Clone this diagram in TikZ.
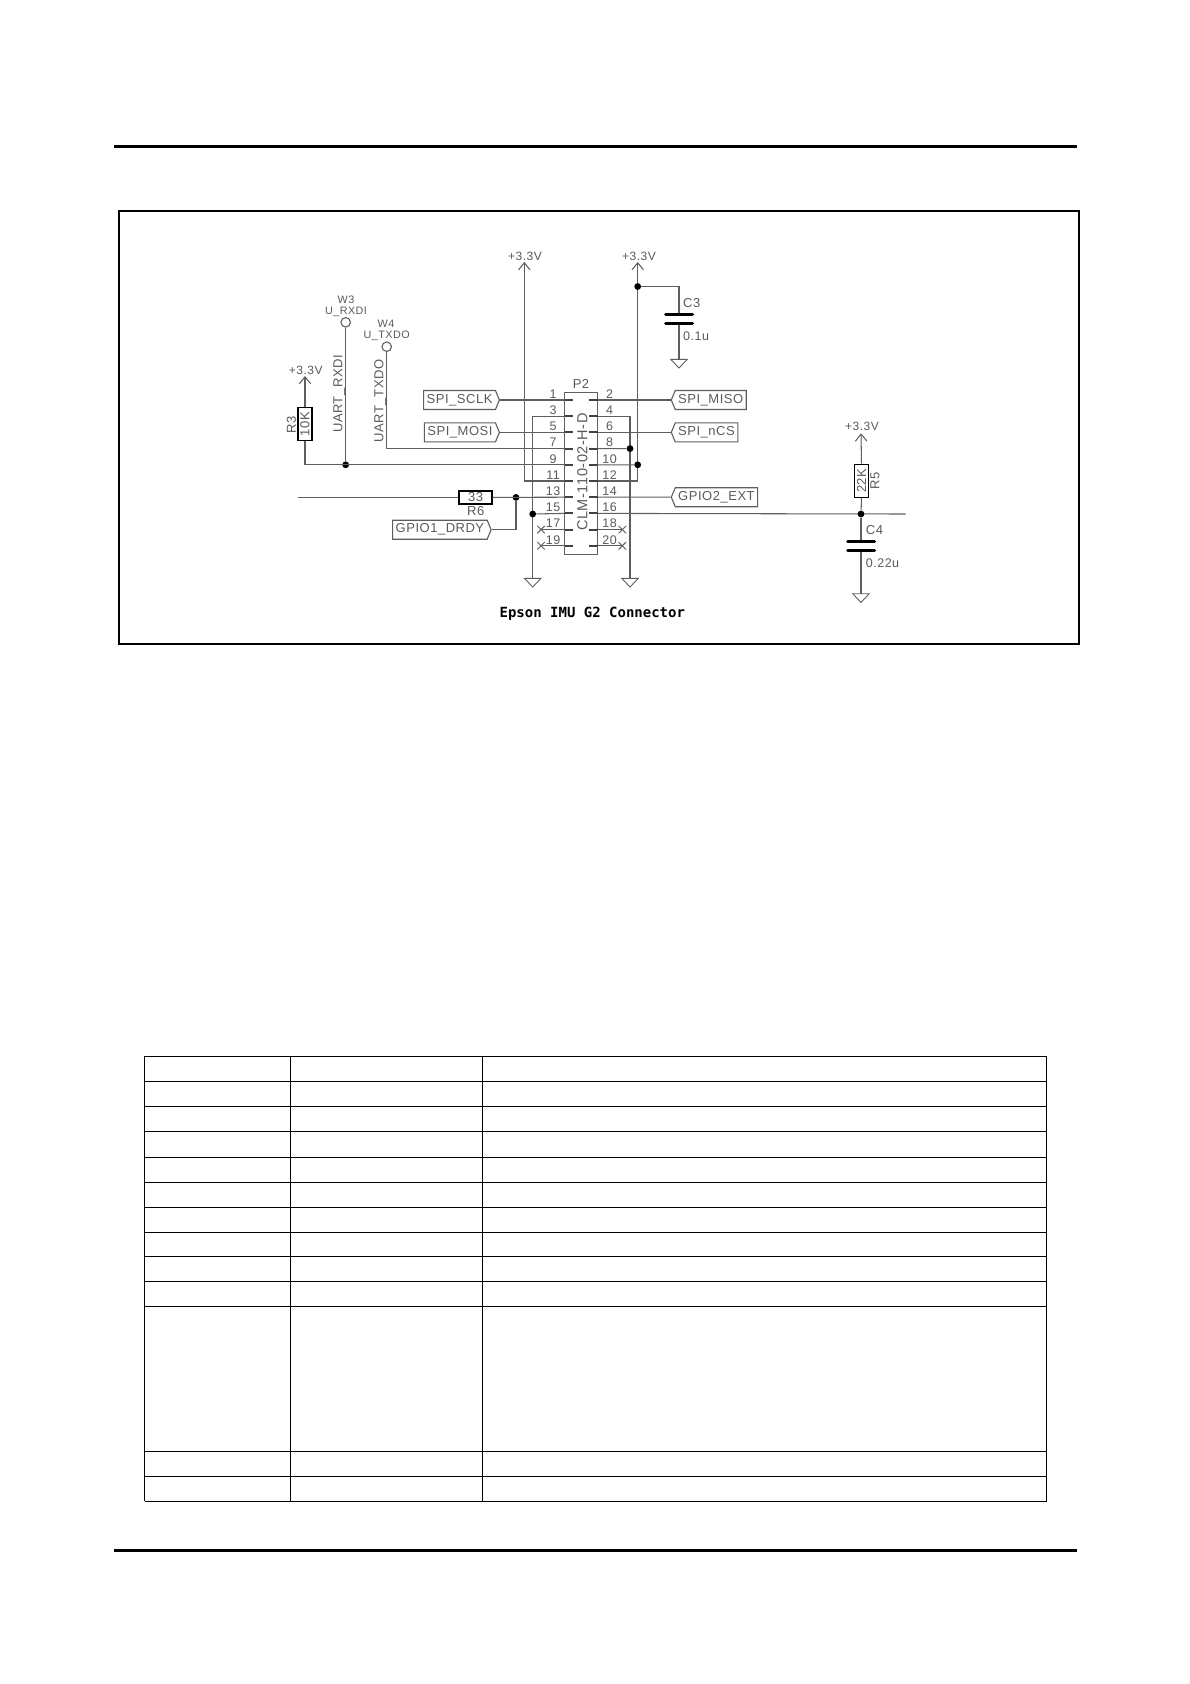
\documentclass[tikz,border=0pt]{standalone}
\usepackage{fontspec}
\usetikzlibrary{arrows.meta}
\usetikzlibrary{shapes.symbols}
\usetikzlibrary{shapes.misc}
\newfontfamily\schemfont[LetterSpace=4]{Liberation Sans}
\newfontfamily\titlefont{DejaVu Sans Mono}
\definecolor{schemgray}{HTML}{5E5E5E}
\definecolor{schemtext}{HTML}{5A5A5A}
\newcommand{\schemsize}[1]{\fontsize{#1}{#1}\schemfont}
\tikzset{
        wire/.style={draw=schemgray, line width=1.05pt},
        vccwire/.style={wire, -{Straight Barb[length=7pt,width=11.5pt]}},
        plate/.style={draw=black, line width=3pt, line cap=round},
        pinstub/.style={draw=schemgray!70!black, line width=2pt},
        junction/.style={circle, fill=black, inner sep=0pt, minimum size=6.8pt},
        lab/.style={text=schemtext, inner sep=0pt, font=\schemsize{12}},
        padlab/.style={lab, font=\schemsize{10.8}},
        pinnum/.style={lab, font=\schemsize{12.5}},
        tagbox/.style={signal, signal pointer angle=135, draw=schemgray, line width=1.1pt, text=schemtext,
                inner xsep=3pt, inner ysep=0pt, minimum height=19pt, font=\schemsize{13}},
        resbox/.style={draw=black, line width=1.4pt, inner sep=0pt, text=schemtext, minimum width=33pt, minimum height=14pt, font=\schemsize{13}},
        nc/.style={cross out, draw=schemgray, line width=0.9pt, inner sep=0pt, minimum size=6.5pt},
        pad/.style={circle, draw=schemgray, line width=1.1pt, fill=white, inner sep=0pt, minimum size=9.5pt},
        gnd/.pic={\draw[wire, line width=0.9pt] (-8.3,0) -- (8.3,0) -- (0,8.7) -- cycle;},
}

\begin{document}
\begin{tikzpicture}[x=1pt, y=-1pt]
        \useasboundingbox (0,0) rectangle (1190,1684);

        \draw [line width=3pt] (114,146) -- (1077,146);
        \draw [line width=3pt] (114,1550) -- (1077,1550);
        \draw [line width=2pt] (119,211) rectangle (1079,644);

        \foreach \yy in {1056,1081.3,1106.3,1131.6,1157.3,1182.3,1207.3,1232.3,1256.3,1281.3,1306.3,1451,1476.3,1501.3}
                \draw [line width=1pt] (144.7,\yy) -- (1046.7,\yy);
        \foreach \xx in {144.7,290,482,1046.7}
                \draw [line width=1pt] (\xx,1056) -- (\xx,1501.3);

        \node [draw=schemgray, line width=1.1pt, minimum width=33pt, minimum height=162.3pt, inner sep=0pt] (connP) at (581.2,473.2) {};
        \node [lab, font=\schemsize{13}] (labP) at (581,384.3) {P2};
        \node [lab, rotate=90, font=\schemsize{14.5}] (labClm) at (582.3,472) {CLM-110-02-H-D};

        \foreach \r in {0,...,9} {
                \pgfmathsetmacro{\yy}{400+16.2*\r}
                \pgfmathtruncatemacro{\na}{2*\r+1}
                \pgfmathtruncatemacro{\nb}{2*\r+2}
                \coordinate (pin\na) at (564.7,\yy);
                \coordinate (pin\nb) at (597.7,\yy);
                \draw [pinstub] (pin\na) -- ++(8.6,0);
                \draw [pinstub] (pin\nb) -- ++(-9,0);
                \node [pinnum] (num\na) at (553,\yy-6) {\na};
                \node [pinnum] (num\nb) at (609.5,\yy-6) {\nb};
        }

        \node [tagbox, anchor=east] (tagSclk) at (500,400) {SPI\_SCLK};
        \node [tagbox, anchor=east] (tagMosi) at (500,432.4) {SPI\_MOSI};
        \node [tagbox, anchor=east] (tagDrdy) at (491.7,529.7) {GPIO1\_DRDY};
        \node [tagbox, signal to=west, anchor=west] (tagMiso) at (670.7,400) {SPI\_MISO};
        \node [tagbox, signal to=west, anchor=west] (tagCs) at (670.7,432.4) {SPI\_nCS};
        \node [tagbox, signal to=west, anchor=west] (tagExt) at (670.7,497.2) {GPIO2\_EXT};

        \draw [wire] (tagSclk.east) -- (pin1);
        \draw [wire] (tagMosi.east) -- (pin5);
        \draw [wire] (tagMiso.west) -- (pin2);
        \draw [wire] (tagCs.west) -- (pin6);
        \draw [wire] (tagExt.west) -- (pin14);

        \coordinate (tipA) at (524.3,262);
        \coordinate (tipB) at (637.7,262);
        \coordinate (tipC) at (305,376);
        \coordinate (tipD) at (861,433.3);
        \node [lab] (vccA) at (525,256.7) {+3.3V};
        \node [lab] (vccB) at (639,256.7) {+3.3V};
        \node [lab] (vccC) at (305.7,370) {+3.3V};
        \node [lab] (vccD) at (862,426.7) {+3.3V};
        \draw [vccwire] (pin11) -| (tipA);
        \draw [vccwire] (pin12) -| (tipB);

        \coordinate (gndA) at (532.7,578.3);
        \coordinate (gndB) at (630,578.3);
        \coordinate (gndC) at (679,359.3);
        \coordinate (gndD) at (861,593.7);
        \foreach \g in {gndA,gndB,gndC,gndD}
                \pic at (\g) {gnd};
        \draw [wire] (pin3) -| (gndA);
        \draw [wire] (pin4) -| (gndB);
        \node [junction] (dotGndA) at (532.7,514) {};
        \node [junction] (dotGndB) at (630,448.6) {};
        \node [junction] (dotVcc) at (637.7,464.8) {};
        \draw [wire] (pin15) -- (dotGndA);
        \draw [wire] (pin8) -- (dotGndB);
        \draw [wire] (pin10) -- (dotVcc);

        \node [junction] (dotC) at (637.7,286.5) {};
        \coordinate (capCa) at (679,314);
        \coordinate (capCb) at (679,323.7);
        \draw [wire] (dotC) -| (capCa);
        \draw [wire] (capCb) -- (gndC);
        \draw [plate] ([xshift=-13.5pt]capCa) -- ([xshift=13.5pt]capCa);
        \draw [plate] ([xshift=-13.5pt]capCb) -- ([xshift=13.5pt]capCb);
        \node [lab, anchor=west, font=\schemsize{13}] (labCc) at (683,302.7) {C3};
        \node [lab, anchor=west, font=\schemsize{12.5}] (valCc) at (683,335.7) {0.1u};

        \node [pad] (padRx) at (345.7,322.3) {};
        \node [pad] (padTx) at (386.7,346.7) {};
        \node [padlab] (labWa) at (346,300) {W3};
        \node [padlab] (labRx) at (346,311.7) {U\_RXDI};
        \node [padlab] (labWb) at (386,324) {W4};
        \node [padlab] (labTx) at (386.7,335.7) {U\_TXDO};
        \node [lab, rotate=90, font=\schemsize{13}] (netRx) at (339.3,394) {UART\_RXDI};
        \node [lab, rotate=90, font=\schemsize{13}] (netTx) at (380,401) {UART\_TXDO};
        \node [junction] (dotRx) at (345.7,464.8) {};
        \draw [wire] (padRx) -- (dotRx);
        \draw [wire] (padTx) |- (pin7);

        \node [resbox, rotate=90] (resC) at (305,424) {10K};
        \node [lab, rotate=90, font=\schemsize{13}] (labRc) at (291.5,425) {R3};
        \draw [vccwire] (resC.east) -- (tipC);
        \draw [wire] (resC.west) |- (pin9);

        \coordinate (netDrdy) at (297.7,497.4);
        \node [resbox, minimum height=13pt] (resF) at (475.5,497.4) {33};
        \node [lab, font=\schemsize{13}] (labRf) at (475.7,511) {R6};
        \node [junction] (dotDrdy) at (516,497.4) {};
        \draw [wire] (netDrdy) -- (resF);
        \draw [wire] (resF) -- (pin13);
        \draw [wire] (dotDrdy) |- (tagDrdy.east);

        \foreach \n in {17,19} {
                \node [nc] (ncL\n) at (pin\n-|541,0) {};
                \draw [wire] (pin\n) -- (ncL\n.center);
        }
        \foreach \n in {18,20} {
                \node [nc] (ncR\n) at (pin\n-|622.3,0) {};
                \draw [wire] (pin\n) -- (ncR\n.center);
        }

        \coordinate (netEnd) at (905.7,514);
        \draw [wire] (pin16) -- (netEnd);
        \node [junction] (dotD) at (861,514) {};
        \node [resbox, rotate=90] (resE) at (861.5,480.8) {22K};
        \node [lab, rotate=90, font=\schemsize{13}] (labRe) at (875,481) {R5};
        \draw [vccwire] (resE.east) -- (tipD);
        \draw [wire] (resE.west) -- (dotD);
        \coordinate (capDa) at (861,541);
        \coordinate (capDb) at (861,550.3);
        \draw [wire] (dotD) -- (capDa);
        \draw [wire] (capDb) -- (gndD);
        \draw [plate] ([xshift=-13.5pt]capDa) -- ([xshift=13.5pt]capDa);
        \draw [plate] ([xshift=-13.5pt]capDb) -- ([xshift=13.5pt]capDb);
        \node [lab, anchor=west, font=\schemsize{13}] (labCd) at (865.7,530) {C4};
        \node [lab, anchor=west, font=\schemsize{12.5}] (valCd) at (865.7,562.7) {0.22u};

        \node [inner sep=0pt, font=\fontsize{14}{14}\titlefont\bfseries] (title) at (592.3,613.5) {Epson IMU G2 Connector};

\end{tikzpicture}
\end{document}
